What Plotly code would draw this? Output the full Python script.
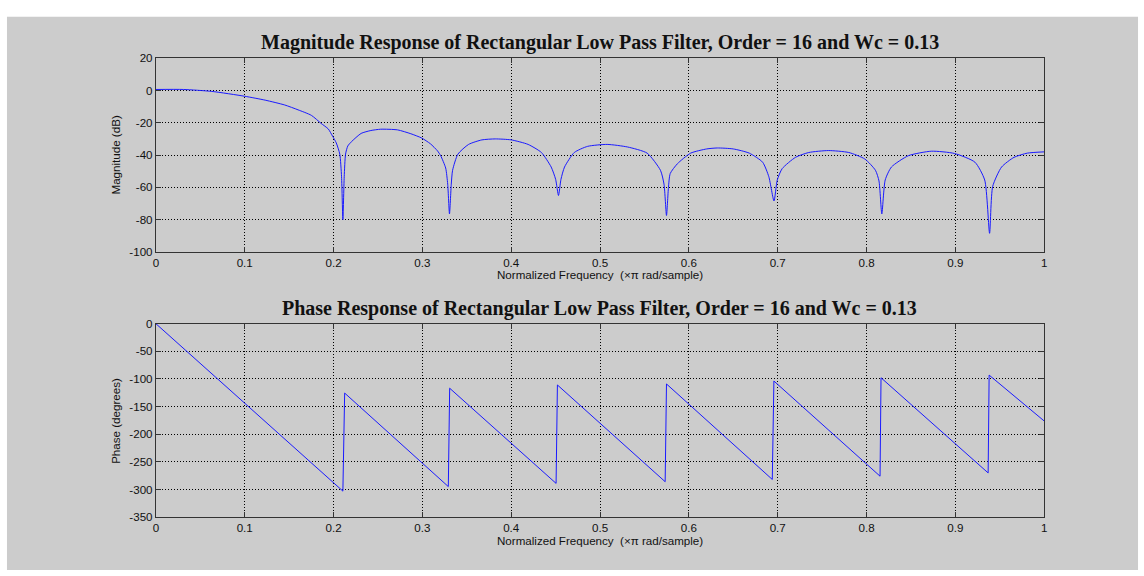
import plotly.graph_objects as go

# Frequency response of a 17-tap rectangular-window low pass FIR (order 16, Wc = 0.13)
mag_freq = [0.000, 0.031, 0.063, 0.100, 0.123, 0.145, 0.160, 0.175, 0.186, 0.194,
            0.199, 0.203, 0.207, 0.209, 0.2105, 0.212, 0.2135, 0.216, 0.220, 0.231,
            0.242, 0.253, 0.272, 0.287, 0.299, 0.309, 0.317, 0.3206, 0.3262, 0.3285,
            0.3305, 0.3325, 0.334, 0.340, 0.352, 0.367, 0.382, 0.400, 0.419, 0.434,
            0.445, 0.450, 0.4532, 0.456, 0.460, 0.471, 0.486, 0.508, 0.531, 0.553,
            0.568, 0.572, 0.5748, 0.577, 0.579, 0.587, 0.602, 0.620, 0.632, 0.650,
            0.668, 0.683, 0.690, 0.6958, 0.6995, 0.705, 0.720, 0.735, 0.757, 0.780,
            0.798, 0.810, 0.814, 0.8172, 0.821, 0.828, 0.847, 0.873, 0.899, 0.922,
            0.933, 0.9385, 0.942, 0.952, 0.966, 0.981, 1.000]
mag_db = [0.6, 0.6, -0.6, -3.6, -6.0, -9.0, -12.0, -15.4, -20.4, -23.8,
          -28.4, -32.4, -39.4, -53.4, -80.0, -53.4, -39.4, -34.4, -31.8, -26.6,
          -24.8, -24.0, -24.4, -26.8, -29.4, -33.0, -37.4, -40.4, -48.0, -58.0,
          -76.4, -58.0, -49.4, -39.4, -33.4, -30.6, -30.0, -30.6, -33.4, -38.4,
          -47.4, -55.0, -65.0, -55.0, -47.4, -38.4, -34.6, -33.4, -35.0, -38.8,
          -49.4, -58.0, -77.4, -60.0, -51.4, -45.4, -38.8, -36.2, -35.6, -36.2,
          -38.8, -44.4, -53.4, -68.4, -55.4, -48.4, -41.4, -38.4, -37.2, -38.4,
          -42.4, -49.4, -56.0, -76.4, -55.4, -47.4, -40.4, -37.6, -39.0, -44.4,
          -55.4, -88.4, -59.4, -47.4, -41.4, -38.8, -38.0]

# Phase: linear segments wrapping by +180 degrees at each zero of the response
phase_freq = [0.000, 0.2105, 0.2125, 0.3292, 0.3307, 0.4505, 0.4520, 0.5733, 0.5748,
              0.6939, 0.6957, 0.8152, 0.8163, 0.9369, 0.9380, 1.000]
phase_deg = [0.0, -302.8, -125.5, -294.6, -116.7, -288.8, -110.8, -285.8, -109.0,
             -281.7, -103.7, -275.8, -97.8, -269.9, -93.0, -176.0]

freq_ticks = [0, 0.1, 0.2, 0.3, 0.4, 0.5, 0.6, 0.7, 0.8, 0.9, 1]
freq_tick_text = ["0", "0.1", "0.2", "0.3", "0.4", "0.5", "0.6", "0.7", "0.8", "0.9", "1"]
mag_ticks = [20, 0, -20, -40, -60, -80, -100]
mag_tick_text = ["20", "0", "-20", "-40", "-60", "-80", "-100"]
phase_ticks = [0, -50, -100, -150, -200, -250, -300, -350]
phase_tick_text = ["0", "-50", "-100", "-150", "-200", "-250", "-300", "-350"]

W, H = 1144, 576
LINE = "#1a1aff"
TICK_FONT = dict(family="Liberation Sans, Arial, sans-serif", size=11.6, color="#111111")
TITLE_FONT = dict(family="Liberation Serif, Times New Roman, serif", size=20, color="#111111")

def px_x(x):
    return x / W

def px_y(y):
    return 1 - y / H

fig = go.Figure()
fig.add_trace(go.Scatter(x=mag_freq, y=mag_db, mode="lines",
                         line=dict(color=LINE, width=1, shape="spline", smoothing=0.6),
                         xaxis="x", yaxis="y", showlegend=False, hoverinfo="skip"))
fig.add_trace(go.Scatter(x=phase_freq, y=phase_deg, mode="lines",
                         line=dict(color=LINE, width=1), xaxis="x2", yaxis="y2",
                         showlegend=False, hoverinfo="skip"))

axis_common = dict(showline=True, linecolor="#333333", linewidth=1, mirror="ticks",
                   ticks="inside", ticklen=5, tickcolor="#333333", tickwidth=1,
                   showgrid=True, gridcolor="#000000", griddash="1px,2px", gridwidth=1,
                   zeroline=False, tickfont=TICK_FONT, fixedrange=True)

x_dom = [px_x(153.7), px_x(1046.7)]
fig.update_layout(
    width=W, height=H,
    margin=dict(l=0, r=0, t=0, b=0),
    paper_bgcolor="white", plot_bgcolor="white",
    xaxis=dict(domain=x_dom, range=[0, 1], tickvals=freq_ticks, ticktext=freq_tick_text,
               anchor="y", **axis_common),
    yaxis=dict(domain=[px_y(250.7), px_y(52.3)], range=[-100, 20], tickvals=mag_ticks,
               ticktext=mag_tick_text, anchor="x", **axis_common),
    xaxis2=dict(domain=x_dom, range=[0, 1], tickvals=freq_ticks, ticktext=freq_tick_text,
                anchor="y2", **axis_common),
    yaxis2=dict(domain=[px_y(522), px_y(324)], range=[-350, 0], tickvals=phase_ticks,
                ticktext=phase_tick_text, anchor="x2", **axis_common),
    shapes=[dict(type="rect", xref="paper", yref="paper", layer="below",
                 x0=px_x(4), x1=px_x(1141), y0=0, y1=px_y(10),
                 fillcolor="#cccccc", line=dict(width=0))],
    annotations=[
        dict(text="<b>Magnitude Response of Rectangular Low Pass Filter, Order = 16 and Wc = 0.13</b>",
             xref="paper", yref="paper", x=px_x(600), y=px_y(36), showarrow=False,
             xanchor="center", yanchor="middle", font=TITLE_FONT),
        dict(text="<b>Phase Response of Rectangular Low Pass Filter, Order = 16 and Wc = 0.13</b>",
             xref="paper", yref="paper", x=px_x(600), y=px_y(308), showarrow=False,
             xanchor="center", yanchor="middle", font=TITLE_FONT),
        dict(text="Normalized Frequency  (\u00d7\u03c0 rad/sample)", xref="paper", yref="paper",
             x=px_x(600), y=px_y(274), showarrow=False, xanchor="center", yanchor="middle",
             font=TICK_FONT),
        dict(text="Normalized Frequency  (\u00d7\u03c0 rad/sample)", xref="paper", yref="paper",
             x=px_x(600), y=px_y(546), showarrow=False, xanchor="center", yanchor="middle",
             font=TICK_FONT),
        dict(text="Magnitude (dB)", xref="paper", yref="paper", textangle=-90,
             x=px_x(113), y=px_y(151.5), showarrow=False, xanchor="center", yanchor="middle",
             font=TICK_FONT),
        dict(text="Phase (degrees)", xref="paper", yref="paper", textangle=-90,
             x=px_x(113), y=px_y(423), showarrow=False, xanchor="center", yanchor="middle",
             font=TICK_FONT),
    ],
)

fig.write_html("out.html")
